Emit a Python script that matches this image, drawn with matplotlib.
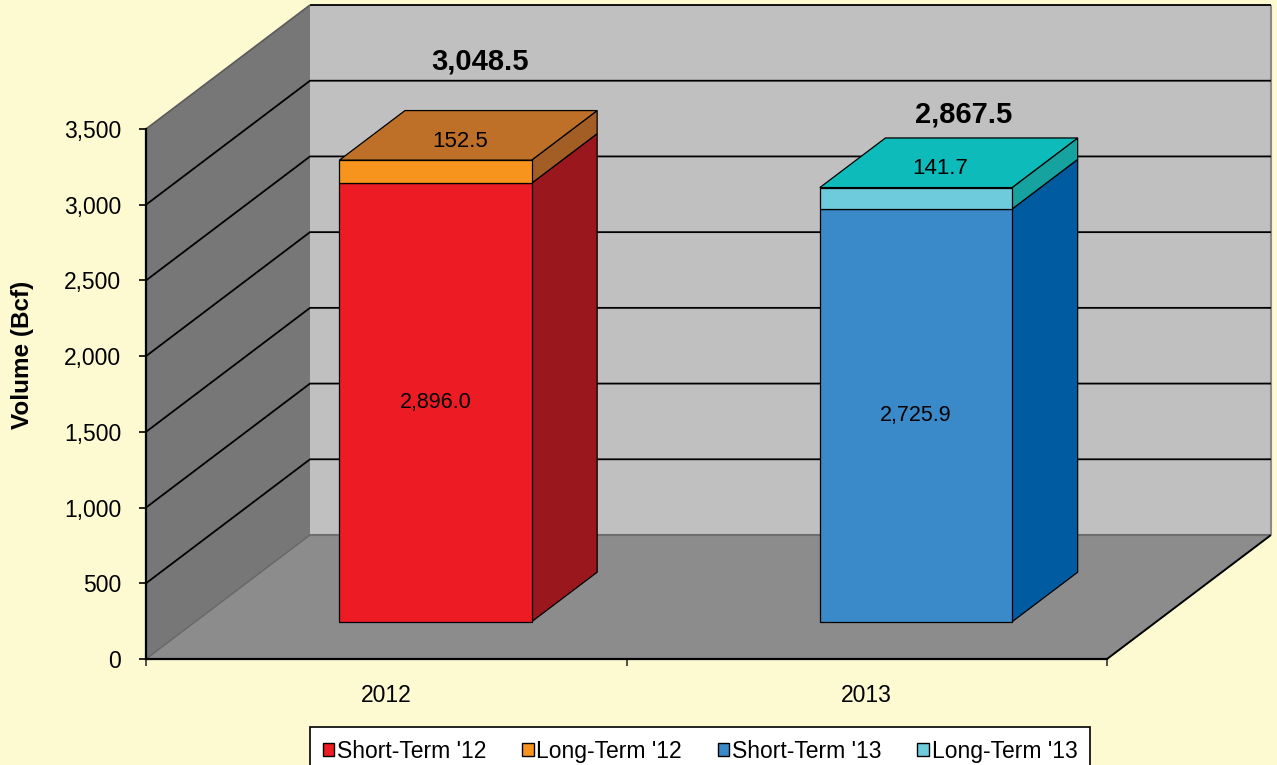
import numpy as np
import matplotlib.pyplot as plt
from matplotlib.patches import Polygon, Patch

plt.rcParams['font.family'] = ['Liberation Sans', 'DejaVu Sans']

# data
years = ['2012', '2013']
short_term = [2896.0, 2725.9]
long_term = [152.5, 141.7]
totals = [3048.5, 2867.5]
y_ticks = [0, 500, 1000, 1500, 2000, 2500, 3000, 3500]
legend_labels = ["Short-Term '12", "Long-Term '12", "Short-Term '13", "Long-Term '13"]

# colours: (front, side, top) per segment
short_colors = [('#ED1C24', '#9A181D', '#ED1C24'), ('#3A89C9', '#005BA1', '#3A89C9')]
long_colors = [('#F7941D', '#A35E25', '#BE7028'), ('#6ECBDC', '#16A29F', '#0DBBBB')]

BG = '#FDF9D0'
YMAX = 3500
# oblique depth offset (full depth) in data units
DX = 164 / 961 * 2
DY = 124 / 530 * YMAX
BAR_W = 0.4
D0, D1 = 0.3, 0.7


def proj(x, v, d):
    return (x + d * DX, v + d * DY)


def poly(ax, pts, fc, ec='black', lw=0.9, z=1):
    ax.add_patch(Polygon([proj(*p) for p in pts], closed=True, facecolor=fc,
                         edgecolor=ec, linewidth=lw, zorder=z, clip_on=False))


def line(ax, pts, color='black', lw=1.2, z=1.5):
    xy = np.array([proj(*p) for p in pts])
    ax.plot(xy[:, 0], xy[:, 1], color=color, lw=lw, zorder=z, clip_on=False,
            solid_capstyle='butt')


fig = plt.figure(figsize=(12.77, 7.65), dpi=100)
fig.patch.set_facecolor(BG)
ax = fig.add_axes([146 / 1277, 106 / 765, 961 / 1277, 530 / 765])
ax.patch.set_visible(False)
ax.set_xlim(0, 2)
ax.set_ylim(0, YMAX)
n = len(years)

# walls and floor
poly(ax, [(0, 0, 1), (n, 0, 1), (n, YMAX, 1), (0, YMAX, 1)], '#C0C0C0', ec='none', z=0.5)
poly(ax, [(0, 0, 0), (0, 0, 1), (0, YMAX, 1), (0, YMAX, 0)], '#777777', ec='none', z=0.5)
poly(ax, [(0, 0, 0), (n, 0, 0), (n, 0, 1), (0, 0, 1)], '#8C8C8C', ec='none', z=0.5)
line(ax, [(0, 0, 1), (n, 0, 1)], color='#6E6E6E', lw=1.5)
line(ax, [(n, 0, 1), (n, YMAX, 1)], color='#8A8A8A', lw=1.5)
line(ax, [(0, 0, 0), (0, 0, 1)], color='#666666', lw=1.0)
line(ax, [(0, YMAX, 0), (0, YMAX, 1)], color='#5A5A5A', lw=1.2)
line(ax, [(n, 0, 0), (n, 0, 1)], color='black', lw=1.4)

for v in y_ticks[1:]:
    if v < YMAX:
        line(ax, [(0, v, 0), (0, v, 1), (n, v, 1)], lw=1.3)
    else:
        line(ax, [(0, v, 1), (n, v, 1)], lw=1.3)


def box(ax, i, v0, v1, colors, top=False, z=3):
    front, side, topc = colors
    xl = i + 0.5 - BAR_W / 2
    xr = i + 0.5 + BAR_W / 2
    poly(ax, [(xr, v0, D0), (xr, v0, D1), (xr, v1, D1), (xr, v1, D0)], side, z=z)
    if top:
        poly(ax, [(xl, v1, D0), (xr, v1, D0), (xr, v1, D1), (xl, v1, D1)], topc, z=z)
    poly(ax, [(xl, v0, D0), (xr, v0, D0), (xr, v1, D0), (xl, v1, D0)], front, z=z + 0.1)


total_offsets = [(-15, 35), (-13, 17)]  # label placement in points from back top edge
for i in range(n):
    s, l = short_term[i], long_term[i]
    box(ax, i, 0, s, short_colors[i], z=3)
    box(ax, i, s, s + l, long_colors[i], top=True, z=3.5)
    ax.text(*proj(i + 0.5, s / 2, D0), f'{s:,.1f}', ha='center', va='center',
            fontsize=15.5, zorder=5)
    ax.text(*proj(i + 0.5, s + l, 0.45), f'{l:,.1f}', ha='center', va='center',
            fontsize=16, zorder=5)
    ax.annotate(f'{totals[i]:,.1f}', xy=proj(i + 0.5, s + l, D1),
                xytext=total_offsets[i], textcoords='offset points',
                ha='center', va='center', fontsize=21, fontweight='bold',
                zorder=5, annotation_clip=False)

# axes
for sp in ['top', 'right']:
    ax.spines[sp].set_visible(False)
ax.spines['left'].set_linewidth(1.6)
ax.spines['bottom'].set_linewidth(1.6)
ax.spines['left'].set_zorder(2)
ax.spines['bottom'].set_zorder(2)
ax.set_yticks(y_ticks)
ax.set_yticklabels([f'{v:,}' for v in y_ticks])
ax.tick_params(axis='y', length=5, width=1.2, pad=13, labelsize=16.5)
ax.set_xticks(range(n + 1))
ax.set_xticklabels([])
ax.tick_params(axis='x', which='major', length=5, width=1.2, color='#333333')
ax.set_xticks([i + 0.5 for i in range(n)], minor=True)
ax.set_xticklabels(years, minor=True)
ax.tick_params(axis='x', which='minor', length=0, pad=18, labelsize=16.5)
ax.text(-0.128, 0.574, 'Volume (Bcf)', transform=ax.transAxes, rotation=90,
        ha='center', va='center', fontsize=17.5, fontweight='bold')

handles = [Patch(facecolor=short_colors[0][0], edgecolor='black'),
           Patch(facecolor=long_colors[0][0], edgecolor='black'),
           Patch(facecolor=short_colors[1][0], edgecolor='black'),
           Patch(facecolor=long_colors[1][0], edgecolor='black')]
leg = fig.legend(handles, legend_labels, loc='upper left', ncol=4, mode='expand',
                 bbox_to_anchor=(310 / 1277, 1 - 728 / 765, 780 / 1277, 0.001),
                 fontsize=16.5, frameon=True, fancybox=False, edgecolor='black',
                 framealpha=1, handlelength=0.5, handleheight=0.5,
                 handletextpad=0.12, columnspacing=1.5, borderpad=0.55,
                 borderaxespad=0)
leg.get_frame().set_linewidth(1.2)

fig.savefig('out.png', dpi=100, facecolor=BG)
